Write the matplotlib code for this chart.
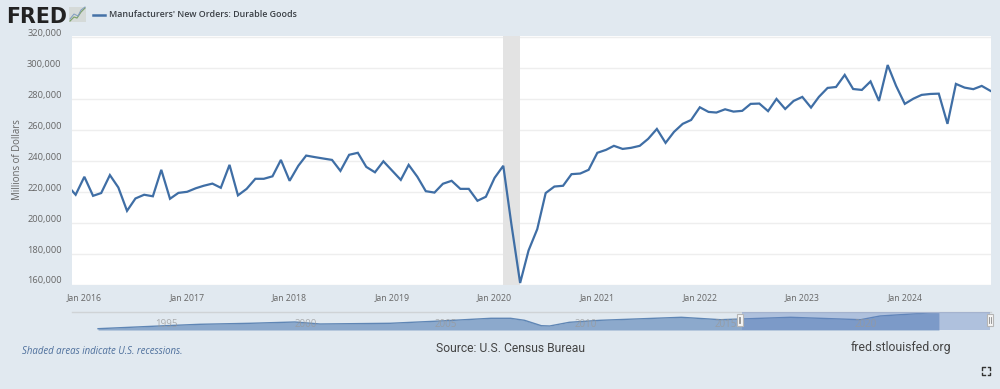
import matplotlib
matplotlib.use('Agg')
import matplotlib.pyplot as plt
import matplotlib.dates as mdates
from matplotlib.patches import Rectangle
from matplotlib.transforms import ScaledTranslation
import pandas as pd

# monthly values, Nov 2015 - Nov 2024
orders = [224400, 218300,
          229900, 217600, 219400, 231000, 223000, 207900, 215900, 218300, 217300, 234400, 215700, 219500,
          220200, 222500, 224100, 225500, 222800, 237600, 217900, 222100, 228600, 228600, 230200, 240800,
          227300, 237000, 243600, 242600, 241700, 240800, 233700, 244100, 245400, 236300, 232800, 239900,
          233900, 227900, 237600, 229900, 220600, 219700, 225400, 227300, 222100, 222100, 214400, 217000,
          229200, 237000, 199100, 161300, 182300, 196100, 219400, 223600, 224100, 231600, 232000, 234400,
          245400, 247300, 249900, 247900, 248600, 249900, 254400, 260800, 251800, 258900, 264100, 266600,
          274800, 271800, 271400, 273500, 272000, 272500, 277000, 277200, 272300, 280200, 273700, 278900,
          281500, 274600, 281500, 287300, 287900, 295700, 286600, 286000, 291500, 278900, 302100, 288600,
          277000, 280400, 282800, 283400, 283600, 264100, 289900, 287500, 286500, 288600, 285400]
dates = pd.date_range('2015-11-01', periods=len(orders), freq='MS')

y_ticks = [160000, 180000, 200000, 220000, 240000, 260000, 280000, 300000, 320000]
x_years = [2016, 2017, 2018, 2019, 2020, 2021, 2022, 2023, 2024]

# overview strip under the chart
nav_years = [1992.57, 1995, 1996.2, 1998, 1999.6, 2000.5, 2003, 2004.8, 2006.6, 2007.3, 2007.8,
             2008.4, 2008.7, 2009.4, 2010.5, 2013.4, 2014.8, 2017.3, 2019.8, 2020.5, 2022.6]
nav_vals = [114200, 147000, 162200, 173200, 187400, 165500, 173200, 198300, 227800, 227800, 205900,
            147000, 143700, 184100, 205900, 238700, 212500, 238700, 212500, 252900, 293300]
nav_labels = [1995, 2000, 2005, 2010, 2015, 2020]

BG = '#e1e9f0'
BLUE = '#3f6ea5'
W, H = 1000, 389


def fx(x):
    return x / W


def fy(y):
    return 1 - y / H


plt.rcParams['font.family'] = ['Open Sans', 'DejaVu Sans']
fig = plt.figure(figsize=(10, 3.89), dpi=100, facecolor=BG)

ax = fig.add_axes([fx(72), fy(285), (991 - 72) / W, (285 - 36) / H], facecolor='white')
ax.axvspan(pd.Timestamp('2020-02-01'), pd.Timestamp('2020-04-01'), color='#e3e3e3', lw=0, zorder=1)
ax.plot(dates, orders, color=BLUE, lw=1.6, solid_joinstyle='miter', zorder=3)
ax.set_xlim(pd.Timestamp('2015-11-18'), pd.Timestamp('2024-11-03'))
ax.set_ylim(160190, 320840)
ax.set_yticks(y_ticks)
ax.set_yticklabels([f'{v:,}' for v in y_ticks])
ax.set_xticks([pd.Timestamp(f'{y}-01-01') for y in x_years])
ax.xaxis.set_major_formatter(mdates.DateFormatter('Jan %Y'))
ax.grid(axis='y', color='#eeeeee', lw=1, zorder=2)
ax.set_axisbelow(True)
ax.tick_params(axis='y', length=0, pad=7.5, labelsize=6.7, labelcolor='#666666')
ax.tick_params(axis='x', length=0, pad=5.5, labelsize=6.3, labelcolor='#666666')
for s in ax.spines.values():
    s.set_visible(False)
# FRED puts the y labels a little above their grid lines
for lab in ax.get_yticklabels():
    lab.set_transform(lab.get_transform() + ScaledTranslation(0, 5 / 100, fig.dpi_scale_trans))
fig.text(fx(17.5), fy(160), 'Millions of Dollars', rotation=90, ha='center', va='center',
         fontsize=6.9, color='#666666')

# navigator
nav = fig.add_axes([fx(72), fy(330), (991 - 72) / W, (330 - 311.5) / H], facecolor='none')
nav.set_xlim(1991.64, 2024.46)
nav.set_ylim(100000, 302000)
nav.fill_between(nav_years, nav_vals, 100000, color='#8ca9cc', lw=0, zorder=1)
nav.plot(nav_years, nav_vals, color='#5f86b5', lw=1, zorder=2)
nav.axvspan(2015.55, 2024.42, color='#6685c2', alpha=0.4, lw=0, zorder=3)
for yr in nav_labels:
    nav.text(yr, 155000, str(yr), ha='center', va='center', fontsize=7, color='#999999', alpha=0.75, zorder=4)
nav.set_xticks([])
nav.set_yticks([])
for s in nav.spines.values():
    s.set_visible(False)
nav.spines['top'].set_visible(True)
nav.spines['top'].set_color('#cfd3d6')
nav.spines['top'].set_linewidth(1)

for hx in (739.5, 990):
    fig.add_artist(Rectangle((fx(hx - 3), fy(326)), 6 / W, 12 / H, transform=fig.transFigure,
                             facecolor='#f4f4f4', edgecolor='#b5b5b5', lw=0.8))
    fig.add_artist(plt.Line2D([fx(hx - 0.8), fx(hx - 0.8)], [fy(323), fy(317)], color='#888888', lw=0.6))
    fig.add_artist(plt.Line2D([fx(hx + 0.8), fx(hx + 0.8)], [fy(323), fy(317)], color='#888888', lw=0.6))

# header
fig.text(fx(6), fy(15), 'FRED', fontsize=14.8, fontweight='bold', family='DejaVu Sans',
         color='#222222', ha='left', va='center_baseline')
fig.add_artist(Rectangle((fx(69), fy(22)), 17 / W, 15 / H, transform=fig.transFigure,
                         facecolor='#d5dad8', edgecolor='none'))
fig.add_artist(plt.Line2D([fx(70), fx(74), fx(77), fx(81), fx(85)], [fy(21), fy(17), fy(18), fy(12), fy(8)],
                          color='#7fa36e', lw=0.9))
fig.add_artist(plt.Line2D([fx(70), fx(74), fx(78), fx(81), fx(85)], [fy(19), fy(14), fy(16), fy(10), fy(7)],
                          color='#7f9cc0', lw=0.7))
fig.add_artist(plt.Line2D([fx(93), fx(105)], [fy(14.5), fy(14.5)], color='#4572a7', lw=1.8))
fig.text(fx(109), fy(14.5), "Manufacturers' New Orders: Durable Goods", fontsize=6.4, fontweight='semibold',
         color='#3a3f45', ha='left', va='center')

# footer
fig.text(fx(22), fy(352), 'Shaded areas indicate U.S. recessions.', fontsize=6.95, style='italic',
         color='#4d6f9c', ha='left', va='center')
fig.text(fx(436), fy(348), 'Source: U.S. Census Bureau', fontsize=8.7, family='Roboto',
         color='#444444', ha='left', va='center')
fig.text(fx(851), fy(348), 'fred.stlouisfed.org', fontsize=8.8, family='Roboto',
         color='#444444', ha='left', va='center')

# fullscreen icon
for cx, cy, dx, dy in [(982, 367, 1, 1), (990, 367, -1, 1), (982, 375, 1, -1), (990, 375, -1, -1)]:
    fig.add_artist(plt.Line2D([fx(cx + 2.5 * dx), fx(cx), fx(cx)], [fy(cy), fy(cy), fy(cy + 2.5 * dy)],
                              color='#333333', lw=1))

fig.savefig('out.png', dpi=100, facecolor=BG)
